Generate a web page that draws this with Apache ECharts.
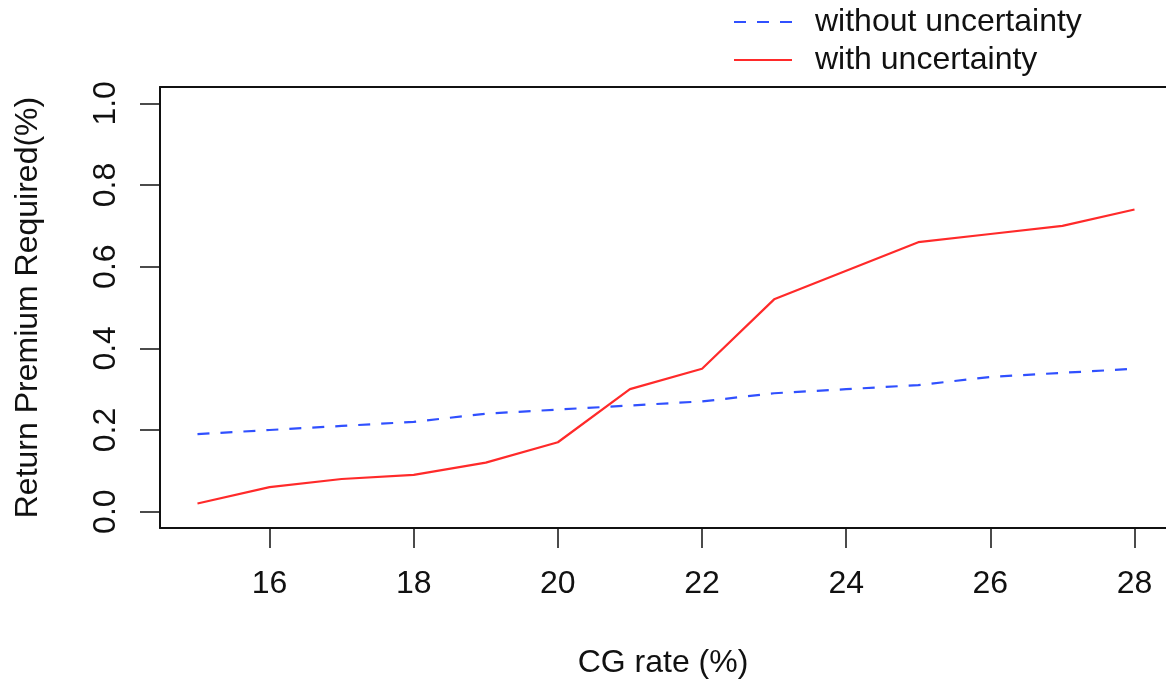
<!DOCTYPE html>
<html>
<head>
<meta charset="utf-8">
<script src="https://cdn.jsdelivr.net/npm/echarts@6/dist/echarts.min.js"></script>
<style>
html,body{margin:0;padding:0;background:#fff;}
#chart{width:1166px;height:681px;}
</style>
</head>
<body>
<div id="chart"></div>
<script>
const cgRate = [15, 16, 17, 18, 19, 20, 21, 22, 23, 24, 25, 26, 27, 28];
const withoutUncertainty = [0.19, 0.20, 0.21, 0.22, 0.24, 0.25, 0.26, 0.27, 0.29, 0.30, 0.31, 0.33, 0.34, 0.35];
const withUncertainty = [0.02, 0.06, 0.08, 0.09, 0.12, 0.17, 0.30, 0.35, 0.52, 0.59, 0.66, 0.68, 0.70, 0.74];
const xTicks = [16, 18, 20, 22, 24, 26, 28];
const yTicks = [0.0, 0.2, 0.4, 0.6, 0.8, 1.0];
const seriesNames = ['without uncertainty', 'with uncertainty'];

const FONT = 'Liberation Sans, Arial, sans-serif';
const X_MIN = 14.48, X_MAX = 28.437;   // right side of R's plot box is cut off by the image edge
const Y_MIN = -0.04, Y_MAX = 1.04;
const boxLine = {show: true, onZero: false, lineStyle: {color: '#111', width: 2}};

const chart = echarts.init(document.getElementById('chart'));
chart.setOption({
  animation: false,
  backgroundColor: '#fff',
  textStyle: {fontFamily: FONT},
  legend: {
    orient: 'vertical',
    left: 728,
    top: 1,
    itemWidth: 58,
    itemHeight: 14,
    itemGap: 6,
    itemStyle: {opacity: 0},
    textStyle: {fontSize: 32, lineHeight: 32, color: '#111', fontFamily: FONT, padding: [0, 0, 0, 18]},
    data: seriesNames
  },
  grid: {
    left: 160,
    top: 87,
    right: 0,
    height: 441,
    show: false,
    containLabel: false,
    outerBoundsMode: 'none'
  },
  xAxis: [{
    type: 'value',
    min: X_MIN,
    max: X_MAX,
    position: 'bottom',
    name: 'CG rate (%)',
    nameLocation: 'middle',
    nameGap: 119,
    nameTextStyle: {fontSize: 32, color: '#111', fontFamily: FONT},
    axisLine: boxLine,
    axisTick: {show: true, length: 20, customValues: xTicks, lineStyle: {color: '#111', width: 1.5}},
    axisLabel: {customValues: xTicks, fontSize: 32, color: '#111', margin: 40, fontFamily: FONT},
    splitLine: {show: false}
  }, {
    type: 'value',
    min: X_MIN,
    max: X_MAX,
    position: 'top',
    axisLine: boxLine,
    axisTick: {show: false},
    axisLabel: {show: false},
    splitLine: {show: false}
  }],
  yAxis: {
    type: 'value',
    min: Y_MIN,
    max: Y_MAX,
    name: 'Return Premium Required(%)',
    nameLocation: 'middle',
    nameGap: 116,
    nameTextStyle: {fontSize: 32, color: '#111', fontFamily: FONT},
    axisLine: boxLine,
    axisTick: {show: true, length: 20, customValues: yTicks, lineStyle: {color: '#111', width: 1.5}},
    axisLabel: {customValues: yTicks, rotate: 90, fontSize: 32, color: '#111', margin: 38, fontFamily: FONT,
      formatter: v => v.toFixed(1)},
    splitLine: {show: false}
  },
  series: [
    {
      name: seriesNames[0],
      type: 'line',
      xAxisIndex: 0,
      data: cgRate.map((x, i) => [x, withoutUncertainty[i]]),
      symbol: 'none',
      lineStyle: {color: '#3050ff', width: 2.2, type: [12, 11]},
      itemStyle: {color: '#3050ff'}
    },
    {
      name: seriesNames[1],
      type: 'line',
      xAxisIndex: 0,
      data: cgRate.map((x, i) => [x, withUncertainty[i]]),
      symbol: 'none',
      lineStyle: {color: '#ff2a2a', width: 2.2},
      itemStyle: {color: '#ff2a2a'}
    }
  ]
});
</script>
</body>
</html>
